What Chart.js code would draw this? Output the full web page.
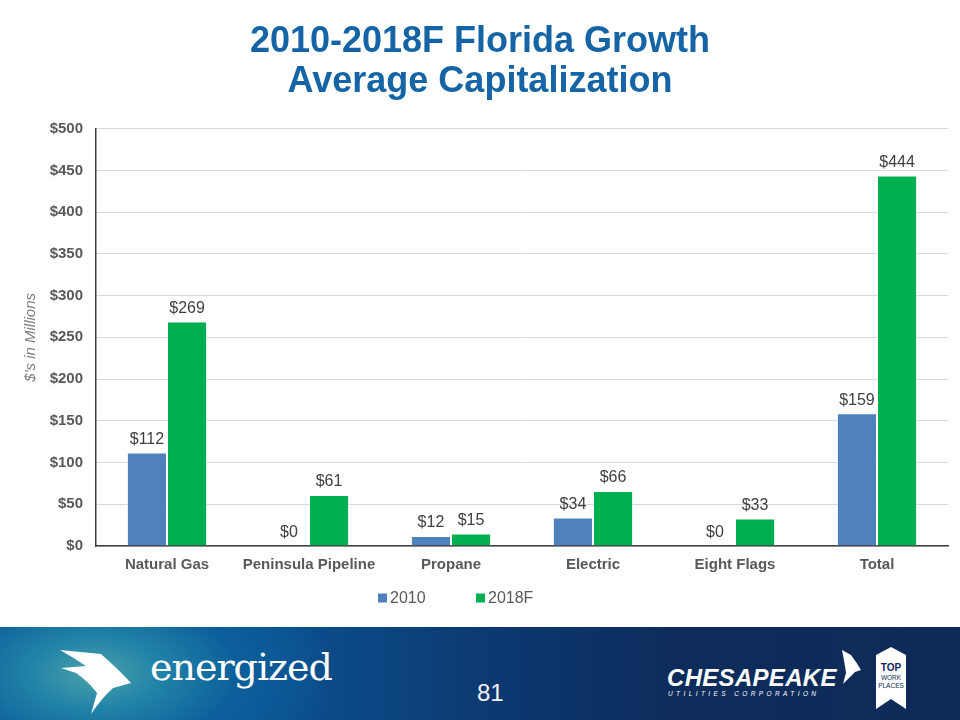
<!DOCTYPE html>
<html>
<head>
<meta charset="utf-8">
<script src="https://cdn.jsdelivr.net/npm/chart.js@4.4.1/dist/chart.umd.min.js"></script>
<style>
  html, body { margin: 0; padding: 0; background: #fff; }
  #wrap { position: absolute; left: 0; top: 0; width: 960px; height: 627px; }
  #footer {
    position: absolute; left: 0; top: 627px; width: 960px; height: 93px; overflow: hidden;
    background: radial-gradient(ellipse 240px 130px at 95px 50%, #4aa3a9 0%, #2182a8 28%, #0b5f9a 60%, rgba(11,80,140,0) 100%),
                linear-gradient(90deg, #0c5a98 0%, #0b4f8e 30%, #0c3a72 50%, #0d2c5c 70%, #0e2a58 100%);
  }
  .energized { position: absolute; left: 150px; top: 18px; color: #fff; font-family: "DejaVu Serif", "Liberation Serif", serif; font-size: 38px; letter-spacing: -1px; }
  .pnum { position: absolute; left: 477px; top: 52px; color: #f2f2f2; font-family: "Liberation Sans Narrow", "Liberation Sans", sans-serif; font-size: 24px; }
  .chesa { position: absolute; left: 667px; top: 37px; color: #fff; font-family: "Liberation Sans", Arial, sans-serif; font-weight: bold; font-style: italic; font-size: 24px; letter-spacing: 0.3px; }
  .util { position: absolute; left: 668px; top: 63px; color: #fff; font-family: "Liberation Sans", Arial, sans-serif; font-style: italic; font-size: 6.5px; letter-spacing: 3.4px; }
</style>
</head>
<body>
<div id="wrap"><canvas id="c"></canvas></div>
<div id="footer">
  <svg width="960" height="93" style="position:absolute;left:0;top:0">
    <path d="M60 23 L101 27 Q118 42 131 56 L113 61 Q101 72 91 87 L97 66 Q88 54 76 46 L61 41 L86 39 Q74 31 60 23 Z" fill="#fff"/>
    <path d="M842 23 L851 28 Q857 36 861 43 L855 45 Q848 52 843 57 L846 46 Q845 38 842 23 Z" fill="#fff"/>
    <path d="M876 28 L891 20 L906 28 L906 82 L891 72 L876 82 Z" fill="#fff"/>
    <text x="891" y="44" text-anchor="middle" font-family="Liberation Sans Narrow, Liberation Sans" font-weight="bold" font-size="10" fill="#0d2c5c">TOP</text>
    <text x="891" y="53" text-anchor="middle" font-family="Liberation Sans Narrow, Liberation Sans" font-size="6.5" fill="#0d2c5c">WORK</text>
    <text x="891" y="61" text-anchor="middle" font-family="Liberation Sans Narrow, Liberation Sans" font-size="6.5" fill="#0d2c5c">PLACES</text>
  </svg>
  <div class="energized">energized</div>
  <div class="pnum">81</div>
  <div class="chesa">CHESAPEAKE</div>
  <div class="util">UTILITIES CORPORATION</div>
</div>
<script>
const categories = ["Natural Gas", "Peninsula Pipeline", "Propane", "Electric", "Eight Flags", "Total"];
const series2010 = [112, 0, 12, 34, 0, 159];
const series2018F = [269, 61, 15, 66, 33, 444];
const seriesNames = ["2010", "2018F"];
const titleLines = ["2010-2018F Florida Growth", "Average Capitalization"];
const yAxisTitle = "$'s in Millions";

const valueLabels = {
  id: 'valueLabels',
  afterDatasetsDraw(chart) {
    const ctx = chart.ctx;
    ctx.save();
    ctx.font = '16px "Liberation Sans", Arial, sans-serif';
    ctx.fillStyle = '#404040';
    ctx.textAlign = 'center';
    ctx.textBaseline = 'bottom';
    chart.data.datasets.forEach((ds, i) => {
      chart.getDatasetMeta(i).data.forEach((el, j) => {
        ctx.fillText('$' + ds.data[j], el.x, el.y - 5);
      });
    });
    ctx.restore();
  }
};

const customLegend = {
  id: 'customLegend',
  afterDraw(chart, args, opts) {
    const ctx = chart.ctx;
    ctx.save();
    ctx.font = '16px "Liberation Sans", Arial, sans-serif';
    ctx.textBaseline = 'middle';
    ctx.textAlign = 'left';
    let x = opts.x;
    const y = opts.y;
    chart.data.datasets.forEach((ds) => {
      ctx.fillStyle = ds.backgroundColor;
      ctx.fillRect(x, y - 4.5, 9, 9);
      ctx.fillStyle = '#595959';
      ctx.fillText(ds.label, x + 12, y + 1);
      x += opts.step;
    });
    ctx.restore();
  }
};

new Chart(document.getElementById('c'), {
  type: 'bar',
  data: {
    labels: categories,
    datasets: [
      { label: seriesNames[0], data: series2010, backgroundColor: '#4f81bd', borderColor: 'rgba(255,255,255,0.7)', borderWidth: 1, barPercentage: 1, categoryPercentage: 0.565 },
      { label: seriesNames[1], data: series2018F, backgroundColor: '#00b050', borderColor: 'rgba(255,255,255,0.7)', borderWidth: 1, barPercentage: 1, categoryPercentage: 0.565 }
    ]
  },
  options: {
    responsive: true,
    maintainAspectRatio: false,
    animation: false,
    layout: { padding: { left: 0, right: 0, top: 0, bottom: 51 } },
    plugins: {
      legend: { display: false },
      tooltip: { enabled: false },
      title: {
        display: true,
        text: titleLines,
        color: '#1565a6',
        font: { family: '"Liberation Sans", Arial, sans-serif', size: 36, weight: 'bold', lineHeight: 1.12 },
        padding: { top: 22, bottom: 26 }
      },
      customLegend: { x: 378, y: 598, step: 98 }
    },
    scales: {
      x: {
        grid: { display: false },
        border: { color: '#404040', width: 1.5 },
        ticks: { color: '#595959', font: { family: '"Liberation Sans", Arial, sans-serif', size: 15, weight: 'bold' }, padding: 2, maxRotation: 0, autoSkip: false }
      },
      y: {
        min: 0, max: 500,
        afterFit(scale) { scale.width = 96; },
        grid: { color: '#d9d9d9', drawTicks: false },
        border: { color: '#404040', width: 1.5 },
        ticks: { stepSize: 50, color: '#595959', padding: 13, font: { family: '"Liberation Sans", Arial, sans-serif', size: 15, weight: 'bold' }, callback: v => '$' + v },
        title: { display: true, text: yAxisTitle, color: '#7f7f7f', padding: { top: 22, bottom: 0 }, font: { family: '"Liberation Sans", Arial, sans-serif', size: 15, style: 'italic' } }
      },
      yRight: {
        position: 'right',
        min: 0, max: 500,
        afterFit(scale) { scale.width = 12; },
        grid: { display: false, drawOnChartArea: false },
        border: { display: false },
        ticks: { display: false }
      }
    }
  },
  plugins: [valueLabels, customLegend]
});
</script>
</body>
</html>
